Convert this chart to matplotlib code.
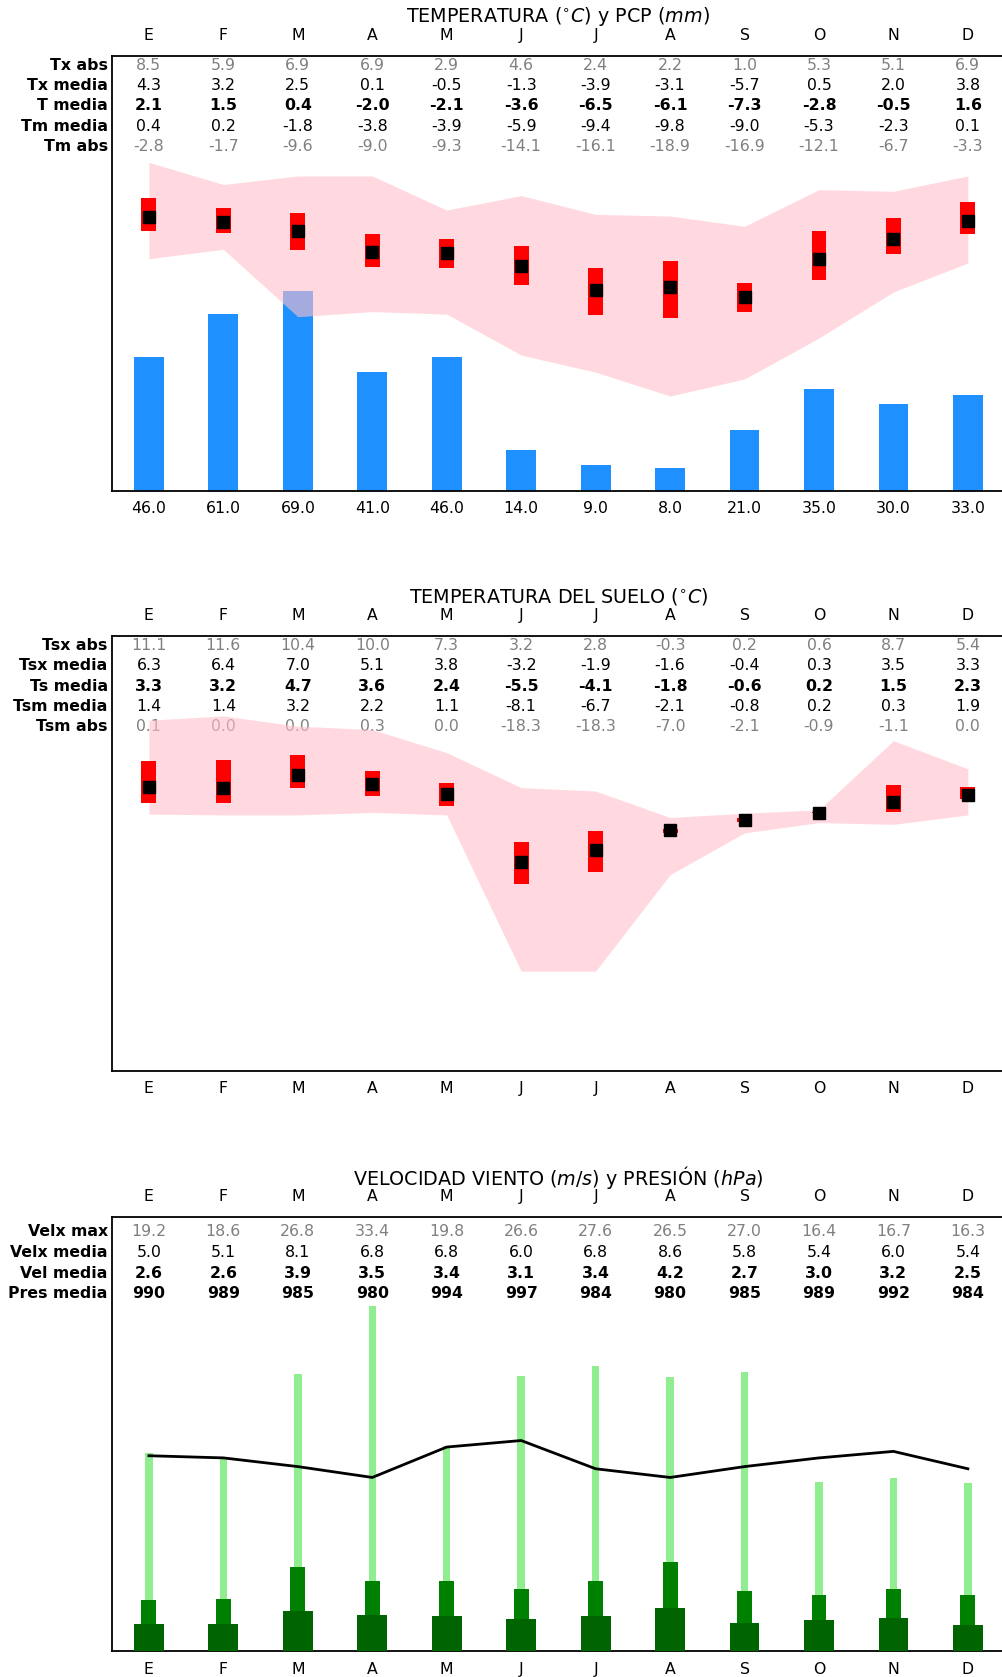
import matplotlib
matplotlib.use("Agg")
import matplotlib.pyplot as plt
import numpy as np

plt.rcParams['font.family'] = ['DejaVu Sans']

months = ['E', 'F', 'M', 'A', 'M', 'J', 'J', 'A', 'S', 'O', 'N', 'D']

# Panel 1: air temperature and precipitation
tx_abs = [8.5, 5.9, 6.9, 6.9, 2.9, 4.6, 2.4, 2.2, 1.0, 5.3, 5.1, 6.9]
tx_media = [4.3, 3.2, 2.5, 0.1, -0.5, -1.3, -3.9, -3.1, -5.7, 0.5, 2.0, 3.8]
t_media = [2.1, 1.5, 0.4, -2.0, -2.1, -3.6, -6.5, -6.1, -7.3, -2.8, -0.5, 1.6]
tm_media = [0.4, 0.2, -1.8, -3.8, -3.9, -5.9, -9.4, -9.8, -9.0, -5.3, -2.3, 0.1]
tm_abs = [-2.8, -1.7, -9.6, -9.0, -9.3, -14.1, -16.1, -18.9, -16.9, -12.1, -6.7, -3.3]
pcp = [46.0, 61.0, 69.0, 41.0, 46.0, 14.0, 9.0, 8.0, 21.0, 35.0, 30.0, 33.0]

# Panel 2: soil temperature
tsx_abs = [11.1, 11.6, 10.4, 10.0, 7.3, 3.2, 2.8, -0.3, 0.2, 0.6, 8.7, 5.4]
tsx_media = [6.3, 6.4, 7.0, 5.1, 3.8, -3.2, -1.9, -1.6, -0.4, 0.3, 3.5, 3.3]
ts_media = [3.3, 3.2, 4.7, 3.6, 2.4, -5.5, -4.1, -1.8, -0.6, 0.2, 1.5, 2.3]
tsm_media = [1.4, 1.4, 3.2, 2.2, 1.1, -8.1, -6.7, -2.1, -0.8, 0.2, 0.3, 1.9]
tsm_abs = [0.1, 0.0, 0.0, 0.3, 0.0, -18.3, -18.3, -7.0, -2.1, -0.9, -1.1, 0.0]

# Panel 3: wind and pressure
velx_max = [19.2, 18.6, 26.8, 33.4, 19.8, 26.6, 27.6, 26.5, 27.0, 16.4, 16.7, 16.3]
velx_media = [5.0, 5.1, 8.1, 6.8, 6.8, 6.0, 6.8, 8.6, 5.8, 5.4, 6.0, 5.4]
vel_media = [2.6, 2.6, 3.9, 3.5, 3.4, 3.1, 3.4, 4.2, 2.7, 3.0, 3.2, 2.5]
pres_media = [990, 989, 985, 980, 994, 997, 984, 980, 985, 989, 992, 984]

W, H = 1003, 1677
DPI = 100
FS = 11.3
TFS = 13.8
PX = 72.0 / DPI  # points per pixel

fig = plt.figure(figsize=(W / DPI, H / DPI), dpi=DPI)

x = np.arange(12)
left = 111.7 / W
width = 893.4 / W


def make_axes(top_px, bottom_px):
    return fig.add_axes([left, 1 - bottom_px / H, width, (bottom_px - top_px) / H])


def style_axes(ax, bottom_labels):
    ax.set_xlim(-0.5, 11.5)
    for s in ax.spines.values():
        s.set_linewidth(1.3)
    ax.set_xticks(x)
    ax.set_xticklabels(bottom_labels, fontsize=FS)
    ax.tick_params(axis='x', length=0, pad=7.5)
    ax.set_yticks([])


def header(ax, title):
    for i, m in enumerate(months):
        ax.annotate(m, xy=(i, 1), xycoords=('data', 'axes fraction'),
                    xytext=(0, 20.5 * PX), textcoords='offset points',
                    ha='center', va='center', fontsize=FS)
    ax.annotate(title, xy=(0.5, 1), xycoords='axes fraction',
                xytext=(0, 39.5 * PX), textcoords='offset points',
                ha='center', va='center', fontsize=TFS)


def table(ax, rows, start_px, step_px):
    for r, (label, vals, color, weight, fmt) in enumerate(rows):
        off = -(start_px + step_px * r) * PX
        ax.annotate(label, xy=(0, 1), xycoords='axes fraction',
                    xytext=(-4 * PX, off), textcoords='offset points',
                    ha='right', va='center', fontsize=FS, fontweight='bold',
                    color='black', zorder=1)
        for i, v in enumerate(vals):
            ax.annotate(fmt.format(v), xy=(i, 1), xycoords=('data', 'axes fraction'),
                        xytext=(0, off), textcoords='offset points',
                        ha='center', va='center', fontsize=FS, fontweight=weight,
                        color=color, zorder=1)


PINK_ALPHA = 0.6

# ---------------- Panel 1 ----------------
ax1 = make_axes(55.7, 490.7)
ax1.bar(x, pcp, width=0.4, color='dodgerblue', zorder=1)
ax1.set_ylim(0, 150)
style_axes(ax1, ['{:.1f}'.format(v) for v in pcp])
header(ax1, 'TEMPERATURA ($^{\\circ}C$) y PCP ($mm$)')
table(ax1, [
    ('Tx abs', tx_abs, 'gray', 'normal', '{:.1f}'),
    ('Tx media', tx_media, 'black', 'normal', '{:.1f}'),
    ('T media', t_media, 'black', 'bold', '{:.1f}'),
    ('Tm media', tm_media, 'black', 'normal', '{:.1f}'),
    ('Tm abs', tm_abs, 'gray', 'normal', '{:.1f}'),
], 9.5, 20.4)

ax1t = ax1.twinx()
ax1t.set_ylim(-30, 21)
ax1t.axis('off')
ax1t.fill_between(x, tm_abs, tx_abs, color='pink', alpha=PINK_ALPHA, lw=0, zorder=1)
ax1t.bar(x, np.array(tx_media) - np.array(tm_media), bottom=tm_media, width=0.2,
         color='red', zorder=2)
ax1t.plot(x, t_media, 's', color='black', ms=8, zorder=3)

# ---------------- Panel 2 ----------------
ax2 = make_axes(635.7, 1071.0)
ax2.set_ylim(-30, 21)
style_axes(ax2, months)
header(ax2, 'TEMPERATURA DEL SUELO ($^{\\circ}C$)')
table(ax2, [
    ('Tsx abs', tsx_abs, 'gray', 'normal', '{:.1f}'),
    ('Tsx media', tsx_media, 'black', 'normal', '{:.1f}'),
    ('Ts media', ts_media, 'black', 'bold', '{:.1f}'),
    ('Tsm media', tsm_media, 'black', 'normal', '{:.1f}'),
    ('Tsm abs', tsm_abs, 'gray', 'normal', '{:.1f}'),
], 10.0, 20.3)
ax2.fill_between(x, tsm_abs, tsx_abs, color='pink', alpha=PINK_ALPHA, lw=0, zorder=4)
ax2.bar(x, np.array(tsx_media) - np.array(tsm_media), bottom=tsm_media, width=0.2,
        color='red', zorder=5)
ax2.plot(x, ts_media, 's', color='black', ms=8, zorder=6)

# ---------------- Panel 3 ----------------
ax3 = make_axes(1216.7, 1651.3)
ax3.set_ylim(0, 42)
style_axes(ax3, months)
header(ax3, 'VELOCIDAD VIENTO ($m/s$) y PRESIÓN ($hPa$)')
table(ax3, [
    ('Velx max', velx_max, 'gray', 'normal', '{:.1f}'),
    ('Velx media', velx_media, 'black', 'normal', '{:.1f}'),
    ('Vel media', vel_media, 'black', 'bold', '{:.1f}'),
    ('Pres media', pres_media, 'black', 'bold', '{:d}'),
], 15.0, 20.7)
ax3.bar(x, velx_max, width=0.1, color='lightgreen', zorder=2)
ax3.bar(x, velx_media, width=0.2, color='green', zorder=3)
ax3.bar(x, vel_media, width=0.4, color='darkgreen', zorder=4)

ax3t = ax3.twinx()
ax3t.set_ylim(900, 1100)
ax3t.axis('off')
ax3t.plot(x, pres_media, color='black', lw=2.0)

fig.savefig('out.png', dpi=DPI)
